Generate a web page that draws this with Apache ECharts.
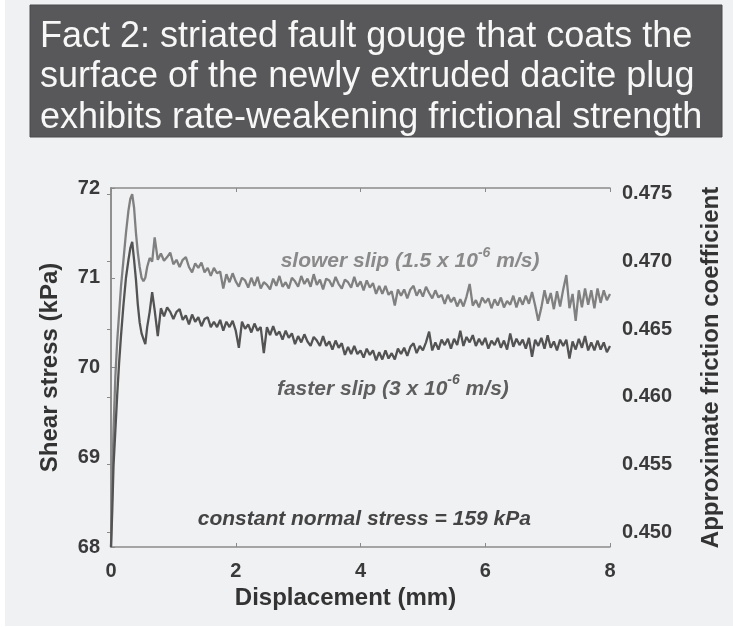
<!DOCTYPE html>
<html>
<head>
<meta charset="utf-8">
<script src="https://cdn.jsdelivr.net/npm/echarts@6/dist/echarts.min.js"></script>
<style>
  html, body { margin: 0; padding: 0; background: #ffffff; }
  #chart { width: 733px; height: 628px; }
</style>
</head>
<body>
<div id="chart"></div>
<script>
// Displacement samples (mm), shared by both slip-rate runs
const displacement = [
  0, 0.02, 0.04, 0.07, 0.10, 0.13, 0.16, 0.20, 0.24, 0.28, 0.31, 0.34, 0.37, 0.40, 0.43, 0.46, 0.49, 0.52, 0.55, 0.58, 0.62, 0.66, 0.70, 0.75,
  0.80, 0.85, 0.90, 0.95, 1.00, 1.05, 1.10, 1.15, 1.20, 1.25, 1.30, 1.35, 1.40, 1.45, 1.50, 1.55, 1.60, 1.65, 1.70, 1.75,
  1.80, 1.85, 1.90, 1.95, 2.00, 2.05, 2.10, 2.15, 2.20, 2.25, 2.30, 2.35, 2.40, 2.45, 2.50, 2.55, 2.60, 2.65, 2.70, 2.75,
  2.80, 2.85, 2.90, 2.95, 3.00, 3.05, 3.10, 3.15, 3.20, 3.25, 3.30, 3.35, 3.40, 3.45, 3.50, 3.55, 3.60, 3.65, 3.70, 3.75,
  3.80, 3.85, 3.90, 3.95, 4.00, 4.05, 4.10, 4.15, 4.20, 4.25, 4.30, 4.35, 4.40, 4.45, 4.50, 4.55, 4.60, 4.65, 4.70, 4.75,
  4.80, 4.85, 4.90, 4.95, 5.00, 5.05, 5.10, 5.15, 5.20, 5.25, 5.30, 5.35, 5.40, 5.45, 5.50, 5.55, 5.60, 5.65, 5.70, 5.75,
  5.80, 5.85, 5.90, 5.95, 6.00, 6.05, 6.10, 6.15, 6.20, 6.25, 6.30, 6.35, 6.40, 6.45, 6.50, 6.55, 6.60, 6.65, 6.70, 6.75,
  6.80, 6.85, 6.90, 6.95, 7.00, 7.05, 7.10, 7.15, 7.20, 7.25, 7.30, 7.35, 7.40, 7.45, 7.50, 7.55, 7.60, 7.65, 7.70, 7.75,
  7.80, 7.85, 7.90, 7.95, 8.00
];

// Shear stress (kPa), slower slip run (1.5e-6 m/s)
const slowerSlip = [
  68.00, 68.70, 69.30, 69.90, 70.30, 70.60, 70.90, 71.20, 71.50, 71.75, 71.88, 71.93, 71.78, 71.50, 71.28, 71.12, 71.00, 70.96, 71.00, 71.12, 71.22, 71.18, 71.45, 71.20,
  71.27, 71.19, 71.23, 71.28, 71.15, 71.20, 71.12, 71.20, 71.23, 71.12, 71.06, 71.16, 71.11, 71.17, 71.06, 71.11, 71.02, 71.11, 71.05, 71.07,
  70.88, 71.04, 70.95, 71.05, 70.96, 70.90, 71.00, 70.97, 70.89, 71.00, 70.91, 71.01, 70.88, 70.95, 70.92, 70.87, 70.99, 70.91, 71.02, 70.90,
  70.95, 70.88, 71.00, 70.96, 70.90, 71.02, 70.93, 70.99, 70.90, 71.04, 70.92, 70.98, 70.87, 70.99, 70.97, 70.90, 71.01, 70.93, 70.88, 70.98,
  70.95, 70.89, 71.01, 70.90, 70.96, 70.86, 70.97, 70.89, 70.94, 70.82, 70.91, 70.82, 70.91, 70.81, 70.85, 70.69, 70.87, 70.80, 70.87, 70.77,
  70.87, 70.91, 70.80, 70.87, 70.79, 70.90, 70.83, 70.77, 70.86, 70.78, 70.81, 70.71, 70.81, 70.73, 70.78, 70.68, 70.76, 70.68, 70.79, 70.93,
  70.69, 70.75, 70.67, 70.78, 70.72, 70.77, 70.66, 70.76, 70.69, 70.78, 70.67, 70.74, 70.70, 70.80, 70.67, 70.78, 70.70, 70.80, 70.71, 70.84,
  70.69, 70.52, 70.67, 70.86, 70.71, 70.83, 70.65, 70.85, 70.68, 70.87, 71.03, 70.66, 70.82, 70.52, 70.86, 70.67, 70.88, 70.70, 70.86, 70.66,
  70.88, 70.72, 70.86, 70.75, 70.82
];

// Shear stress (kPa), faster slip run (3e-6 m/s)
const fasterSlip = [
  68.00, 68.40, 68.90, 69.30, 69.70, 70.05, 70.35, 70.70, 71.00, 71.20, 71.33, 71.40, 71.20, 70.98, 70.70, 70.50, 70.38, 70.32, 70.26, 70.45, 70.62, 70.84, 70.64, 70.35,
  70.66, 70.57, 70.67, 70.62, 70.54, 70.62, 70.65, 70.53, 70.58, 70.48, 70.59, 70.51, 70.56, 70.46, 70.54, 70.56, 70.45, 70.51, 70.45, 70.53,
  70.41, 70.51, 70.45, 70.52, 70.41, 70.22, 70.51, 70.43, 70.48, 70.39, 70.49, 70.41, 70.45, 70.16, 70.45, 70.36, 70.46, 70.36, 70.40, 70.31,
  70.41, 70.33, 70.38, 70.26, 70.35, 70.28, 70.37, 70.29, 70.24, 70.34, 70.30, 70.24, 70.35, 70.24, 70.29, 70.20, 70.30, 70.22, 70.27, 70.14,
  70.23, 70.15, 70.24, 70.15, 70.19, 70.11, 70.21, 70.14, 70.19, 70.08, 70.17, 70.09, 70.19, 70.10, 70.16, 70.09, 70.21, 70.15, 70.22, 70.13,
  70.23, 70.27, 70.16, 70.24, 70.19, 70.28, 70.40, 70.19, 70.28, 70.20, 70.31, 70.25, 70.32, 70.21, 70.32, 70.25, 70.41, 70.24, 70.34, 70.28,
  70.36, 70.24, 70.32, 70.25, 70.33, 70.21, 70.30, 70.25, 70.33, 70.22, 70.30, 70.20, 70.38, 70.23, 70.32, 70.25, 70.31, 70.21, 70.33, 70.12,
  70.31, 70.24, 70.33, 70.21, 70.36, 70.22, 70.29, 70.19, 70.31, 70.24, 70.31, 70.10, 70.29, 70.20, 70.32, 70.22, 70.35, 70.19, 70.28, 70.19,
  70.30, 70.20, 70.28, 70.17, 70.24
];

// Axis tick labels
const xTicks = [0, 2, 4, 6, 8];
const shearTicks = [68, 69, 70, 71, 72];
const frictionTicks = [0.450, 0.455, 0.460, 0.465, 0.470, 0.475];

const titleLines = [
  'Fact 2: striated fault gouge that coats the',
  'surface of the newly extruded dacite plug',
  'exhibits rate-weakening frictional strength'
];

const pair = (xs, ys) => xs.map((x, i) => [x, ys[i]]);

const axisColor = '#8a8a8a';
const labelColor = '#3a3a3a';
const fontFamily = 'Liberation Sans, Arial, sans-serif';

const chart = echarts.init(document.getElementById('chart'), null, { renderer: 'canvas' });

const option = {
  backgroundColor: '#ffffff',
  animation: false,
  grid: { left: 111, right: 123, top: 188, bottom: 81, show: false },
  xAxis: [
    {
      type: 'value', min: xTicks[0], max: xTicks[xTicks.length - 1], interval: 2,
      name: 'Displacement (mm)', nameLocation: 'middle', nameGap: 35,
      nameTextStyle: { fontFamily, fontSize: 24, fontWeight: 'bold', color: '#333', padding: [0, 30, 0, 0] },
      axisLine: { show: true, lineStyle: { color: axisColor, width: 1.5 } },
      axisTick: { show: true, inside: true, length: 4, lineStyle: { color: axisColor } },
      axisLabel: { fontFamily, fontSize: 20, fontWeight: 'bold', color: labelColor, margin: 14 },
      splitLine: { show: false }
    },
    {
      type: 'value', position: 'top', min: 0, max: 8, interval: 2,
      axisLine: { show: true, lineStyle: { color: axisColor, width: 1.5 } },
      axisTick: { show: true, inside: true, length: 4, lineStyle: { color: axisColor } },
      axisLabel: { show: false },
      splitLine: { show: false }
    }
  ],
  yAxis: [
    {
      type: 'value', min: shearTicks[0], max: shearTicks[shearTicks.length - 1], interval: 1,
      name: 'Shear stress (kPa)', nameLocation: 'middle', nameGap: 49, nameRotate: 90,
      nameTextStyle: { fontFamily, fontSize: 24, fontWeight: 'bold', color: '#333' },
      axisLine: { show: true, lineStyle: { color: axisColor, width: 1.5 } },
      axisTick: { show: true, inside: true, length: 4, lineStyle: { color: axisColor } },
      axisLabel: { fontFamily, fontSize: 20, fontWeight: 'bold', color: labelColor, margin: 11 },
      splitLine: { show: false }
    },
    {
      type: 'value', position: 'right', min: 0.44889, max: 0.47544,
      name: 'Approximate friction coefficient', nameLocation: 'middle', nameGap: 89, nameRotate: 90,
      nameTextStyle: { fontFamily, fontSize: 24, fontWeight: 'bold', color: '#333' },
      axisLine: { show: true, lineStyle: { color: axisColor, width: 1.5 } },
      axisTick: { show: true, inside: true, length: 4, customValues: frictionTicks, lineStyle: { color: axisColor } },
      axisLabel: {
        fontFamily, fontSize: 20, fontWeight: 'bold', color: labelColor, margin: 12,
        customValues: frictionTicks, formatter: v => v.toFixed(3)
      },
      splitLine: { show: false }
    }
  ],
  series: [
    {
      name: 'slower slip', type: 'line', xAxisIndex: 0, yAxisIndex: 0,
      data: pair(displacement, slowerSlip), showSymbol: false,
      lineStyle: { color: '#808080', width: 2.3 }, z: 2
    },
    {
      name: 'faster slip', type: 'line', xAxisIndex: 0, yAxisIndex: 0,
      data: pair(displacement, fasterSlip), showSymbol: false,
      lineStyle: { color: '#535353', width: 2.3 }, z: 3
    }
  ],
  graphic: [
    { type: 'rect', silent: true, z: -10, shape: { x: 5, y: 0, width: 728, height: 626 }, style: { fill: '#f0f1f3' } },
    { type: 'rect', silent: true, z: -5, shape: { x: 30, y: 5, width: 692, height: 132 }, style: { fill: '#58585a', stroke: '#4a4a4c', lineWidth: 1 } },
    ...titleLines.map((t, i) => ({
      type: 'text', silent: true, z: 10, left: 40, top: 19 + i * 40.5,
      style: { text: t, fill: '#f7f7f7', font: '36px ' + fontFamily }
    }))
  ]
};

chart.setOption(option);

// Annotations anchored to data coordinates
function note(x, y, text, color, size) {
  const p = chart.convertToPixel({ xAxisIndex: 0, yAxisIndex: 0 }, [x, y]);
  return {
    type: 'text', silent: true, z: 20, x: p[0], y: p[1],
    style: {
      text, fill: color, font: 'italic bold ' + size + 'px ' + fontFamily,
      verticalAlign: 'middle',
      rich: {
        sup: { fontSize: 14, fontStyle: 'italic', fontWeight: 'bold', fill: color, fontFamily, padding: [0, 0, 17, 0] },
        base: { fontSize: size, fontStyle: 'italic', fontWeight: 'bold', fill: color, fontFamily }
      }
    }
  };
}
chart.setOption({
  graphic: option.graphic.concat([
    note(2.72, 71.18, '{base|slower slip (1.5 x 10}{sup|-6}{base| m/s)}', '#8a8a8a', 21),
    note(2.66, 69.76, '{base|faster slip (3 x 10}{sup|-6}{base| m/s)}', '#5e5e5e', 21),
    note(1.39, 68.31, 'constant normal stress = 159 kPa', '#444444', 21)
  ])
});
</script>
</body>
</html>
